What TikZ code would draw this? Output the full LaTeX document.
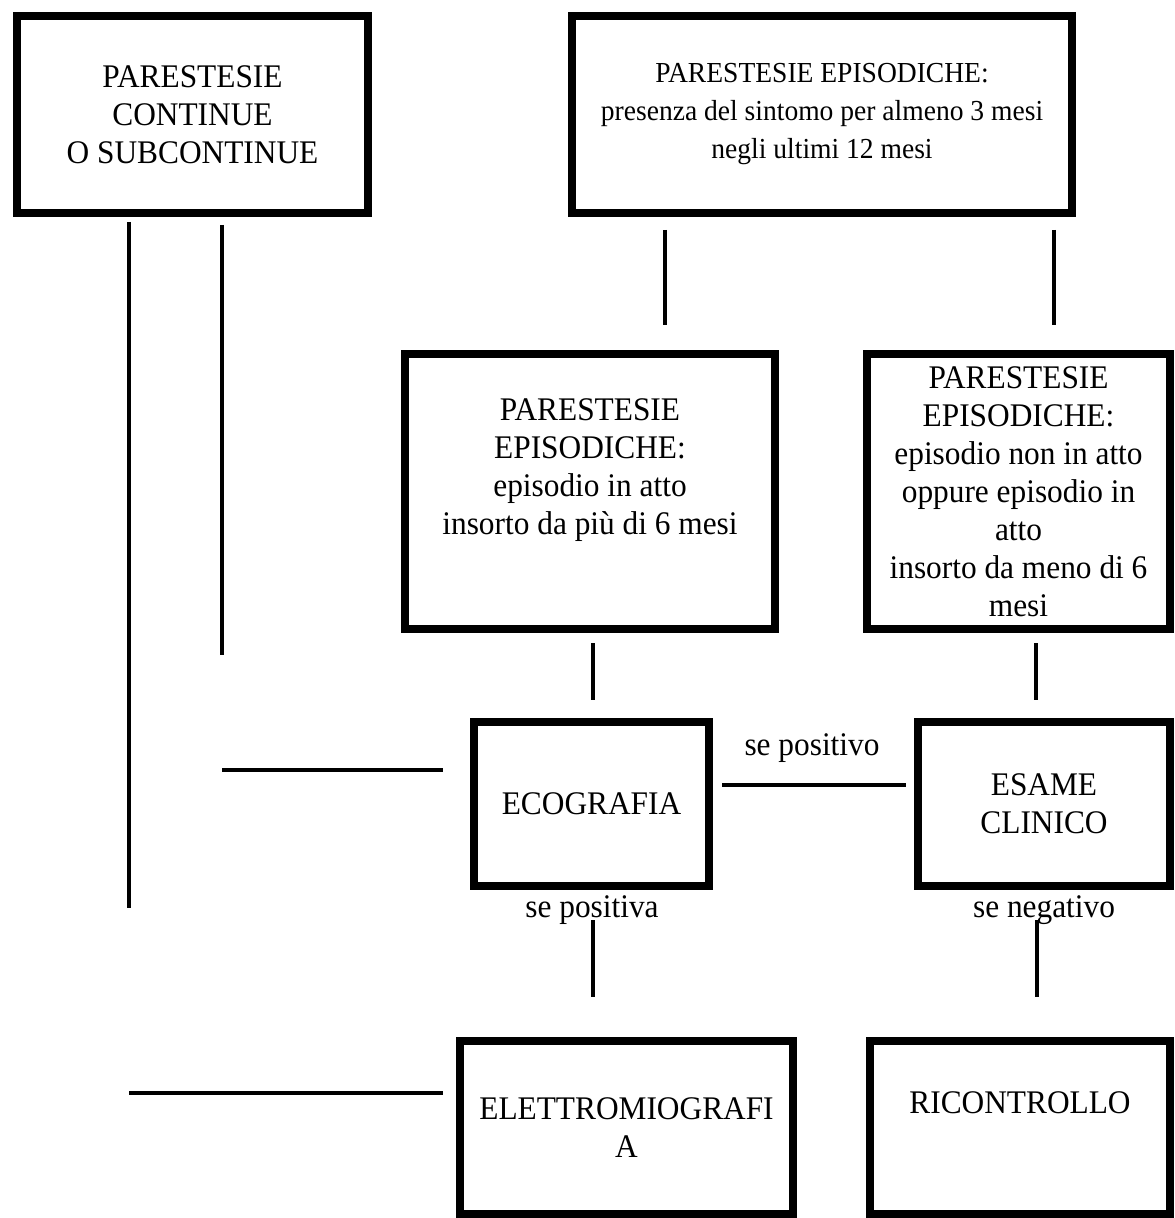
\documentclass[tikz,border=0pt]{standalone}
\usepackage{fontspec}
\setmainfont{Liberation Serif}[FakeStretch=0.95]
\usetikzlibrary{positioning}

\begin{document}
\begin{tikzpicture}[x=0.5pt,y=-0.5pt,box/.style={draw,line width=4pt,align=center,inner sep=0pt,font=\fontsize{16.5}{19}\selectfont},link/.style={line width=2pt},tag/.style={inner sep=0pt,font=\fontsize{16.5}{19}\selectfont}]
\useasboundingbox (0,0) rectangle (1174,1218);
\node[box,minimum width=175.5pt,minimum height=98.5pt] (continue) at (192.5,114.5){PARESTESIE\\CONTINUE\\O SUBCONTINUE};
\node[box,minimum width=250pt,minimum height=98.5pt,font=\fontsize{14.5}{19}\selectfont] (episod) at (822,114.5){PARESTESIE EPISODICHE:\\presenza del sintomo per almeno 3 mesi\\negli ultimi 12 mesi};
\node[box,minimum width=185pt,minimum height=137.5pt] (inatto) at (590,491.5){PARESTESIE\\EPISODICHE:\\episodio in atto\\insorto da più di 6 mesi\\\strut};
\node[box,minimum width=151.5pt,minimum height=137.5pt] (nonatto) at (1018.5,491.5){PARESTESIE\\EPISODICHE:\\episodio non in atto\\oppure episodio in\\atto\\insorto da meno di 6\\mesi};
\node[box,minimum width=117.5pt,minimum height=82pt] (eco) at (591.5,804){ECOGRAFIA};
\node[box,minimum width=126pt,minimum height=82pt] (clinico) at (1044,804){ESAME\\CLINICO};
\node[box,minimum width=166.5pt,minimum height=86.5pt] (emg) at (626.5,1127.5){ELETTROMIOGRAFI\\A};
\node[box,minimum width=150pt,minimum height=86.5pt] (ricontrollo) at (1020,1127.5){RICONTROLLO\\\strut};
\node[tag] (sepos) at (812,748){se positivo};
\node[tag] (sepositiva) at (592,910){se positiva};
\node[tag] (seneg) at (1044,910){se negativo};
% free line ends
\coordinate (la1) at (129,222); \coordinate (la2) at (129,908);
\coordinate (lb1) at (222,225); \coordinate (lb2) at (222,655);
\coordinate (lc1) at (665,230); \coordinate (lc2) at (665,325);
\coordinate (ld1) at (1054,230); \coordinate (ld2) at (1054,325);
\coordinate (le1) at (593,643); \coordinate (le2) at (593,700);
\coordinate (lf1) at (1036,643); \coordinate (lf2) at (1036,700);
\coordinate (lg1) at (222,770); \coordinate (lg2) at (443,770);
\coordinate (lh1) at (722,785); \coordinate (lh2) at (906,785);
\coordinate (li1) at (593,920); \coordinate (li2) at (593,997);
\coordinate (lj1) at (1037,920); \coordinate (lj2) at (1037,997);
\coordinate (lk1) at (129,1093); \coordinate (lk2) at (443,1093);
\draw[link] (la1) -- (la2);\draw[link] (lb1) -- (lb2);
\draw[link] (lc1) -- (lc2);\draw[link] (ld1) -- (ld2);
\draw[link] (le1) -- (le2);\draw[link] (lf1) -- (lf2);
\draw[link] (lg1) -- (lg2);\draw[link] (lh1) -- (lh2);
\draw[link] (li1) -- (li2);\draw[link] (lj1) -- (lj2);
\draw[link] (lk1) -- (lk2);
\end{tikzpicture}
\end{document}
